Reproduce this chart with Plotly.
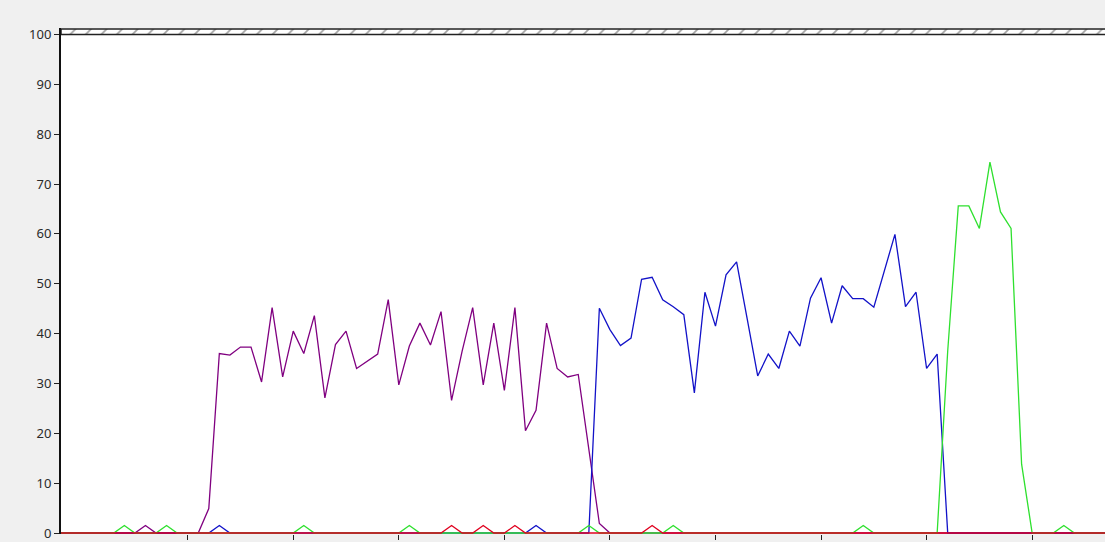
import plotly.graph_objects as go

# ---- data (sample index 0..99, percent values) ----
samples = list(range(100))

purple_vals = [0, 0, 0, 0, 0, 0, 0, 0, 1.5, 0,
               0, 0, 0, 0, 4.9, 36.0, 35.7, 37.3, 37.3, 30.3,
               45.2, 31.3, 40.5, 36.0, 43.6, 27.1, 37.8, 40.5, 33.0, 34.5,
               35.9, 46.8, 29.7, 37.5, 42.1, 37.7, 44.4, 26.6, 36.5, 45.2,
               29.7, 42.1, 28.6, 45.2, 20.5, 24.6, 42.1, 33.0, 31.3, 31.8,
               17.0, 1.9, 0, 0, 0, 0, 0, 0, 0, 0,
               0, 0, 0, 0, 0, 0, 0, 0, 0, 0,
               0, 0, 0, 0, 0, 0, 0, 0, 0, 0,
               0, 0, 0, 0, 0, 0, 0, 0, 0, 0,
               0, 0, 0, 0, 0, 0, 0, 0, 0, 0]

blue_vals = [0, 0, 0, 0, 0, 0, 0, 0, 0, 0,
             0, 0, 0, 0, 0, 1.5, 0, 0, 0, 0,
             0, 0, 0, 0, 0, 0, 0, 0, 0, 0,
             0, 0, 0, 0, 0, 0, 0, 0, 0, 0,
             0, 0, 0, 0, 0, 1.5, 0, 0, 0, 0,
             0, 45.1, 40.8, 37.6, 39.1, 50.9, 51.3, 46.8, 45.4, 43.8,
             28.1, 48.3, 41.5, 51.8, 54.4, 43.0, 31.5, 35.9, 33.0, 40.5,
             37.5, 47.1, 51.2, 42.1, 49.6, 47.0, 47.0, 45.3, 52.4, 59.9,
             45.4, 48.3, 33.0, 35.9, 0, 0, 0, 0, 0, 0,
             0, 0, 0, 0, 0, 0, 0, 0, 0, 0]

green_vals = [0, 0, 0, 0, 0, 0, 1.5, 0, 0, 0,
              1.5, 0, 0, 0, 0, 0, 0, 0, 0, 0,
              0, 0, 0, 1.5, 0, 0, 0, 0, 0, 0,
              0, 0, 0, 1.5, 0, 0, 0, 0, 0, 0,
              0, 0, 0, 0, 0, 0, 0, 0, 0, 0,
              1.5, 0, 0, 0, 0, 0, 0, 0, 1.5, 0,
              0, 0, 0, 0, 0, 0, 0, 0, 0, 0,
              0, 0, 0, 0, 0, 0, 1.5, 0, 0, 0,
              0, 0, 0, 0, 36.5, 65.6, 65.6, 61.1, 74.4, 64.4,
              61.1, 13.8, 0, 0, 0, 1.5, 0, 0, 0, 0]

red_vals = [0, 0, 0, 0, 0, 0, 0, 0, 0, 0,
            0, 0, 0, 0, 0, 0, 0, 0, 0, 0,
            0, 0, 0, 0, 0, 0, 0, 0, 0, 0,
            0, 0, 0, 0, 0, 0, 0, 1.5, 0, 0,
            1.5, 0, 0, 1.5, 0, 0, 0, 0, 0, 0,
            0, 0, 0, 0, 0, 0, 1.5, 0, 0, 0,
            0, 0, 0, 0, 0, 0, 0, 0, 0, 0,
            0, 0, 0, 0, 0, 0, 0, 0, 0, 0,
            0, 0, 0, 0, 0, 0, 0, 0, 0, 0,
            0, 0, 0, 0, 0, 0, 0, 0, 0, 0]

y_tick_vals = [0, 10, 20, 30, 40, 50, 60, 70, 80, 90, 100]
y_tick_text = ["0", "10", "20", "30", "40", "50", "60", "70", "80", "90", "100"]
x_tick_vals = [12, 22, 32, 42, 52, 62, 72, 82, 92]

X_MIN, X_MAX = 0, 98.9
Y_MIN, Y_MAX = -0.2, 101.3
BAND_LO, BAND_HI = 100, 101.1

fig = go.Figure()

# hatched band above 100
fig.add_trace(go.Scatter(
    x=[X_MIN, X_MAX + 2, X_MAX + 2, X_MIN, X_MIN],
    y=[BAND_LO, BAND_LO, BAND_HI, BAND_HI, BAND_LO],
    mode="lines", fill="toself",
    fillcolor="white",
    fillpattern=dict(shape="/", fgcolor="#444444", bgcolor="white",
                     size=11, solidity=0.15),
    line=dict(color="#222222", width=1.5),
    hoverinfo="skip", showlegend=False,
))

series = [
    (purple_vals, "#800080"),
    (blue_vals, "#1212c8"),
    (green_vals, "#2ee02e"),
    (red_vals, "#e0001e"),
]
for vals, col in series:
    fig.add_trace(go.Scatter(
        x=samples, y=vals, mode="lines",
        line=dict(color=col, width=1.3),
        showlegend=False, hoverinfo="skip",
    ))

fig.update_layout(
    width=1105, height=542,
    margin=dict(l=61, r=0, t=28, b=6),
    paper_bgcolor="#f0f0f0",
    plot_bgcolor="white",
    font=dict(family="Noto Sans", size=13, color="#2a2a2a"),
    showlegend=False,
)

fig.update_yaxes(
    range=[Y_MIN, Y_MAX],
    tickvals=y_tick_vals, ticktext=y_tick_text,
    ticks="outside", ticklen=5, tickwidth=1, tickcolor="#222222",
    ticklabeloverflow="allow",
    showgrid=False, zeroline=False,
    showline=True, linecolor="#111111", linewidth=2,
    layer="below traces",
)
fig.update_xaxes(
    range=[X_MIN, X_MAX],
    tickvals=x_tick_vals, showticklabels=False,
    ticks="outside", ticklen=5, tickwidth=1, tickcolor="#222222",
    showgrid=False, zeroline=False, showline=False,
)

fig.write_html(
    "out.html",
    config={"displayModeBar": False},
    post_script="document.body.style.margin='0';document.body.style.padding='0';"
                "document.body.style.background='#f0f0f0';"
                "document.body.style.overflow='hidden';",
)
